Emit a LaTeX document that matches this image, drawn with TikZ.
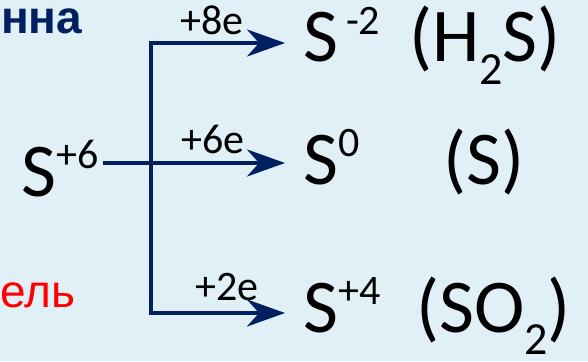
\documentclass[tikz,border=0pt]{standalone}
\usepackage{fontspec}
\setmainfont{Carlito}
\newfontfamily\cyrfont{Liberation Sans}
\usepackage{tikz}
\usetikzlibrary{arrows.meta,positioning}

\definecolor{bgblue}{HTML}{E1F0F7}
\definecolor{navy}{HTML}{002060}

\newcommand{\supr}[1]{\raisebox{28pt}{\fontsize{42}{42}\selectfont #1}}
\newcommand{\subr}[1]{\raisebox{-22pt}{\fontsize{46}{46}\selectfont #1}}

\tikzset{
  ion/.style={inner sep=0pt, anchor=base west, font=\fontsize{76}{76}\selectfont},
  elec/.style={inner sep=0pt, font=\fontsize{42}{42}\selectfont},
  link/.style={draw=navy, line width=4pt},
  redox/.style={link, -{Stealth[length=38pt,width=27pt,inset=12pt]}},
}

\begin{document}
\begin{tikzpicture}[x=1pt,y=-1pt]
\fill[bgblue] (0,0) rectangle (588,361);
\useasboundingbox (0,0) rectangle (588,361);

% cut-off words at the left edge
\node[inner sep=0pt, anchor=base west, text=navy, font=\cyrfont\bfseries\fontsize{46}{46}\selectfont] (hdr) at (1,34) {нна};
\node[inner sep=0pt, anchor=base west, text=red, font=\cyrfont\fontsize{46}{46}\selectfont] (role) at (0,307) {ель};

% sulfur +6 and its products
\node[ion] (s6) at (21,196) {S\supr{+6}};
\node[ion] (sm2) at (303,62) {S\hspace{8pt}\supr{-2}};
\node[ion] (s0) at (303,184) {S\supr{0}};
\node[ion] (sp4) at (303,332) {S\supr{+4}};
\node[ion] (h2s) at (409,62) {(H\subr{2}S)};
\node[ion] (sul) at (443,184) {(S)};
\node[ion] (so2) at (416,332) {(SO\subr{2})};

\coordinate (fork) at (151,163);
\coordinate (up) at (151,43);
\coordinate (dn) at (151,313);

\draw[link, line cap=rect] (up) -- (dn);
\draw[redox, shorten >=18pt] (up) -- node[elec, above=6pt, pos=0.4] (e8) {+8e} (up -| sm2.west);
\draw[redox, shorten >=18pt] ([xshift=4pt]s6.east |- fork) -- node[elec, above=7pt, pos=0.55] (e6) {+6e} (fork -| s0.west);
\draw[redox, shorten >=18pt] (dn) -- node[elec, above=10pt] (e2) {+2e} (dn -| sp4.west);
\end{tikzpicture}
\end{document}
